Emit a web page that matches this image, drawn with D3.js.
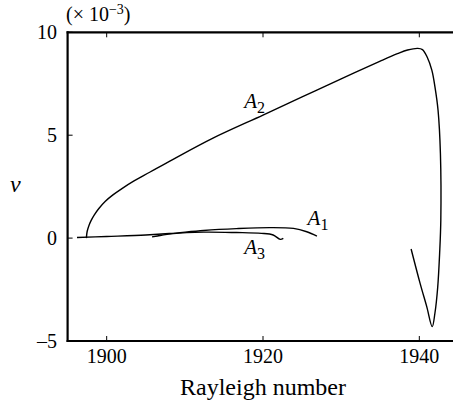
<!DOCTYPE html>
<html><head><meta charset="utf-8">
<script src="https://cdn.jsdelivr.net/npm/d3@7"></script>
<style>body{margin:0;background:#fff}svg{display:block}svg text{font-family:"Times New Roman",Times,"Liberation Serif","DejaVu Serif","Noto Serif",serif}</style>
</head><body>
<svg id="c" width="453" height="404"></svg>
<script>
const xTicks = [1900, 1920, 1940];
const yTicks = [-5, 0, 5, 10];
const seriesA2 = [[1897.4,0],[1897.5,0.32],[1897.7,0.58],[1898.0,0.85],[1898.4,1.12],[1899.0,1.44],[1899.8,1.78],[1900.8,2.1],[1902.0,2.42],[1903.5,2.78],[1905.5,3.2],[1908.5,3.83],[1913.6,4.86],[1920,5.98],[1925,6.86],[1930,7.74],[1935,8.6],[1937.2,8.96],[1938.5,9.14],[1939.8,9.22],[1940.4,9.16],[1941.0,8.8],[1941.6,8.16],[1942.0,7.35],[1942.4,6.2],[1942.7,4.1],[1942.75,0.87],[1942.6,-0.73],[1942.35,-2.4],[1942.0,-3.64],[1941.65,-4.3],[1940.95,-3.33],[1940.1,-2.2],[1938.95,-0.53]];
const seriesA1 = [[1896.2,0.03],[1900,0.08],[1905,0.15],[1908,0.22],[1912.4,0.37],[1916.6,0.46],[1920.9,0.51],[1923.9,0.47],[1925.6,0.31],[1926.9,0.1]];
const seriesA3 = [[1905.8,0.06],[1907,0.14],[1908.5,0.22],[1912.4,0.29],[1916.6,0.27],[1919.8,0.23],[1921.3,0.15],[1922.2,-0.06],[1922.6,-0.01]];
const labels = [{name:"A",sub:"2",R:1917.6,v:6.3},{name:"A",sub:"1",R:1925.7,v:0.62},{name:"A",sub:"3",R:1917.6,v:-0.75}];

const svg = d3.select("#c");
const x = d3.scaleLinear().domain([1895,1945]).range([67.6,458.4]);
const y = d3.scaleLinear().domain([-5,10]).range([341,32.3]);

// curves
const line = d3.line().x(d=>x(d[0])).y(d=>y(d[1])).curve(d3.curveCatmullRom.alpha(0.5));
[seriesA2, seriesA1, seriesA3].forEach(s=>{
  svg.append("path").attr("d", line(s)).attr("fill","none").attr("stroke","#000").attr("stroke-width",1.4);
});

// frame
const fr = svg.append("g").attr("stroke","#000").attr("stroke-width",2.2).attr("fill","none");
fr.append("line").attr("x1",x(1895)).attr("x2",x(1895)).attr("y1",y(10)-1).attr("y2",y(-5)+1);
fr.append("line").attr("x1",x(1895)-1).attr("x2",x(1945)).attr("y1",y(10)).attr("y2",y(10));
fr.append("line").attr("x1",x(1895)-1).attr("x2",x(1945)).attr("y1",y(-5)).attr("y2",y(-5));
fr.append("line").attr("x1",x(1945)).attr("x2",x(1945)).attr("y1",y(10)).attr("y2",y(-5));

// ticks
const tk = svg.append("g").attr("stroke","#000").attr("stroke-width",1);
xTicks.forEach(t=>{
  tk.append("line").attr("x1",x(t)).attr("x2",x(t)).attr("y1",y(-5)).attr("y2",y(-5)-5);
  tk.append("line").attr("x1",x(t)).attr("x2",x(t)).attr("y1",y(10)).attr("y2",y(10)+5);
});
yTicks.forEach(t=>{
  tk.append("line").attr("x1",x(1895)).attr("x2",x(1895)+5).attr("y1",y(t)).attr("y2",y(t));
});

// tick labels
svg.append("g").selectAll("text").data(xTicks).join("text")
  .attr("x",d=>x(d)).attr("y",y(-5)+22).attr("text-anchor","middle")
  .attr("font-size",20).text(d=>d);
svg.append("g").selectAll("text").data(yTicks).join("text")
  .attr("x",57).attr("y",d=>y(d)+6.5).attr("text-anchor","end")
  .attr("font-size",20).text(d=>d<0?"\u2013"+Math.abs(d):d);

// multiplier
const m = svg.append("text").attr("x",66).attr("y",21).attr("font-size",20);
m.append("tspan").text("(\u00d7 10");
m.append("tspan").attr("dy",-7).attr("font-size",14).text("\u22123");
m.append("tspan").attr("dy",7).text(")");

// axis titles
svg.append("text").attr("x",263).attr("y",395).attr("text-anchor","middle")
  .attr("font-size",24).text("Rayleigh number");
svg.append("text").attr("x",10).attr("y",192)
  .attr("font-style","italic").attr("font-size",24).text("v");

// series labels
labels.forEach(l=>{
  const t = svg.append("text").attr("x",x(l.R)).attr("y",y(l.v)).attr("font-size",21);
  t.append("tspan").attr("font-style","italic").text(l.name);
  t.append("tspan").attr("dy",5).attr("font-size",16).text(l.sub);
});
</script>
</body></html>
